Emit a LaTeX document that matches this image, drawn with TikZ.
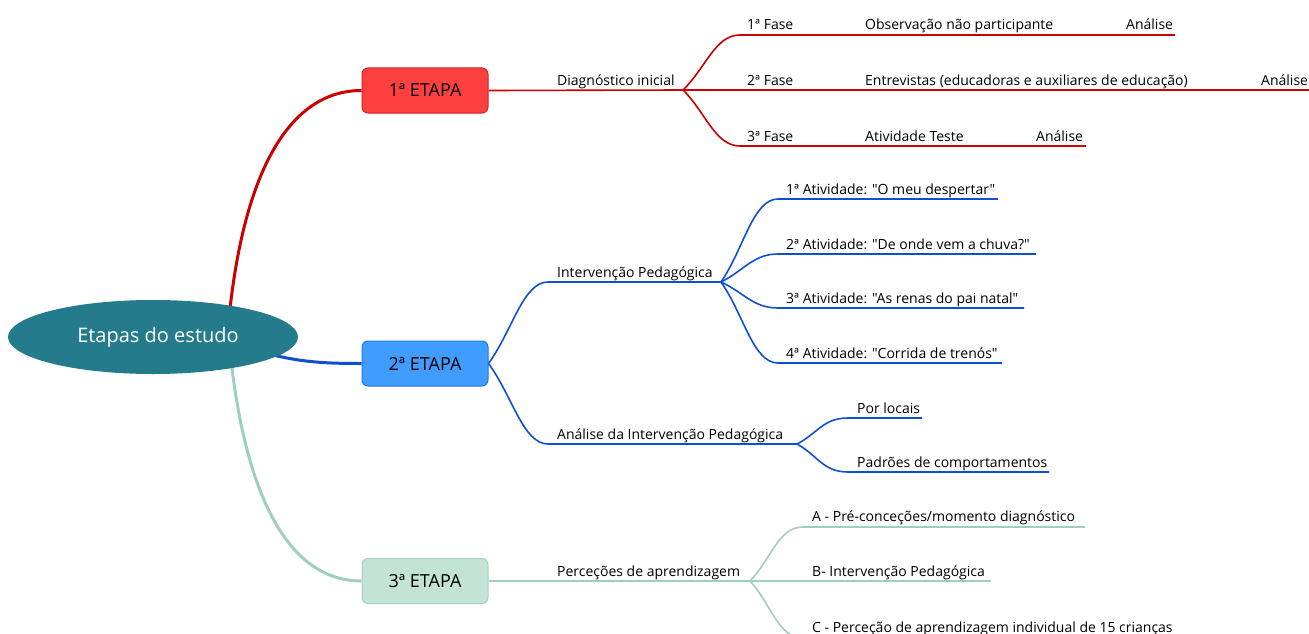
\documentclass[tikz,border=0pt]{standalone}
\usepackage{fontspec}
\setmainfont{Open Sans}[Ligatures=TeXOff]
\usetikzlibrary{shapes.geometric,calc,backgrounds}

\definecolor{estudoTeal}{HTML}{237B8B}
\definecolor{redFill}{HTML}{FF4040}
\definecolor{redDraw}{HTML}{D82020}
\definecolor{redLine}{HTML}{CC0000}
\definecolor{blueFill}{HTML}{409CFF}
\definecolor{blueDraw}{HTML}{2279E4}
\definecolor{blueLine}{HTML}{0F50D0}
\definecolor{mintFill}{HTML}{C3E3D6}
\definecolor{mintDraw}{HTML}{A6D3C0}
\definecolor{mintLine}{HTML}{9FD0BB}

\begin{document}
\begin{tikzpicture}[
        x=1pt, y=-1pt,
        topic/.style={anchor=base west, inner sep=0pt, font=\fontsize{14}{16}\selectfont},
        etapa/.style={draw, rounded corners=6pt, minimum width=126pt, minimum height=45pt,
            inner sep=0pt, line width=1pt, font=\fontsize{18}{20}\selectfont},
        main/.style={line width=3pt},
        sub/.style={line width=1.6pt},
        branch/.style={to path={.. controls ($(\tikztostart)!.4!(\tikztotarget)$)
            and ($(\tikztotarget)+(-25,0)$) .. (\tikztotarget)}},
    ]
    \useasboundingbox (0,0) rectangle (1309,634);

    \node[ellipse, fill=estudoTeal, minimum width=290pt, minimum height=74pt, inner sep=0pt,
        text=white, font=\fontsize{20}{24}\selectfont] (estudo) at (153,337) {\hspace*{10pt}Etapas do estudo};

    \node[etapa, fill=redFill, draw=redDraw] (etapa1) at (425,90.5) {1ª ETAPA};
    \node[etapa, fill=blueFill, draw=blueDraw] (etapa2) at (425,363.5) {2ª ETAPA};
    \node[etapa, fill=mintFill, draw=mintDraw] (etapa3) at (425,581) {3ª ETAPA};

    % points of the map
    \coordinate (r0) at (229,318);
    \coordinate (b0) at (242,346);
    \coordinate (m0) at (231,360);

    \coordinate (diag) at (683,90);
    \coordinate (fase1) at (740,35);   \coordinate (fase1e) at (1175,35);
    \coordinate (fase2) at (740,90);   \coordinate (fase2e) at (1312,90);
    \coordinate (fase3) at (740,146);  \coordinate (fase3e) at (1086,146);

    \coordinate (interv) at (548,282); \coordinate (intervb) at (721,282);
    \coordinate (ativ1) at (778,199);  \coordinate (ativ1e) at (998,199);
    \coordinate (ativ2) at (778,254);  \coordinate (ativ2e) at (1036,254);
    \coordinate (ativ3) at (778,308);  \coordinate (ativ3e) at (1024,308);
    \coordinate (ativ4) at (778,363);  \coordinate (ativ4e) at (1002,363);

    \coordinate (anal) at (548,444);   \coordinate (analb) at (797,444);
    \coordinate (locais) at (848,418); \coordinate (locaise) at (922,418);
    \coordinate (padroes) at (848,472);\coordinate (padroese) at (1049,472);

    \coordinate (perc) at (750,581);
    \coordinate (percA) at (803,527);  \coordinate (percAe) at (1085,527);
    \coordinate (percB) at (803,581);  \coordinate (percBe) at (991,581);
    \coordinate (percC) at (803,638);  \coordinate (percCe) at (1185,638);

    % texts
    \node[topic] (tdiag) at (557,85) {Diagnóstico inicial};
    \node[topic] (tf1) at (747,30) {1ª Fase};
    \node[topic] (tobs) at (865,30) {Observação não participante};
    \node[topic] (tan1) at (1126,30) {Análise};
    \node[topic] (tf2) at (747,85) {2ª Fase};
    \node[topic] (tent) at (865,85) {Entrevistas (educadoras e auxiliares de educação)};
    \node[topic] (tan2) at (1261,85) {Análise};
    \node[topic] (tf3) at (747,141) {3ª Fase};
    \node[topic] (tteste) at (865,141) {Atividade Teste};
    \node[topic] (tan3) at (1036,141) {Análise};

    \node[topic] (tinterv) at (557,277) {Intervenção Pedagógica};
    \node[topic] (tativ1) at (786,194) {1ª Atividade: "O meu despertar"};
    \node[topic] (tativ2) at (786,249) {2ª Atividade: "De onde vem a chuva?"};
    \node[topic] (tativ3) at (786,303) {3ª Atividade: "As renas do pai natal"};
    \node[topic] (tativ4) at (786,358) {4ª Atividade: "Corrida de trenós"};
    \node[topic] (tanal) at (557,439) {Análise da Intervenção Pedagógica};
    \node[topic] (tlocais) at (857,413) {Por locais};
    \node[topic] (tpadroes) at (857,467) {Padrões de comportamentos};

    \node[topic] (tperc) at (557,576) {Perceções de aprendizagem};
    \node[topic] (tpercA) at (812,521) {A - Pré-conceções/momento diagnóstico};
    \node[topic] (tpercB) at (812,576) {B- Intervenção Pedagógica};
    \node[topic] (tpercC) at (812,632) {C - Perceção de aprendizagem individual de 15 crianças};

    \begin{scope}[on background layer]
        % from the centre to the stages
        \draw[main, redLine] (r0) .. controls (244,170) and (290,90.5) .. (etapa1.west);
        \draw[main, blueLine] (b0) .. controls (290,362) and (320,363.5) .. (etapa2.west);
        \draw[main, mintLine] (m0) .. controls (247,500) and (290,581) .. (etapa3.west);

        % 1st stage
        \draw[sub, redLine] (etapa1.east) -- (diag);
        \draw[sub, redLine] (diag) to[branch] (fase1) -- (fase1e);
        \draw[sub, redLine] (diag) -- (fase2) -- (fase2e);
        \draw[sub, redLine] (diag) to[branch] (fase3) -- (fase3e);

        % 2nd stage
        \draw[sub, blueLine] (etapa2.east) to[branch] (interv) -- (intervb);
        \foreach \a in {ativ1,ativ2,ativ3,ativ4}
            \draw[sub, blueLine] (intervb) to[branch] (\a) -- (\a e);
        \draw[sub, blueLine] (etapa2.east) to[branch] (anal) -- (analb);
        \draw[sub, blueLine] (analb) to[branch] (locais) -- (locaise);
        \draw[sub, blueLine] (analb) to[branch] (padroes) -- (padroese);

        % 3rd stage
        \draw[sub, mintLine] (etapa3.east) -- (perc);
        \draw[sub, mintLine] (perc) to[branch] (percA) -- (percAe);
        \draw[sub, mintLine] (perc) -- (percB) -- (percBe);
        \draw[sub, mintLine] (perc) to[branch] (percC) -- (percCe);
    \end{scope}

\end{tikzpicture}
\end{document}
